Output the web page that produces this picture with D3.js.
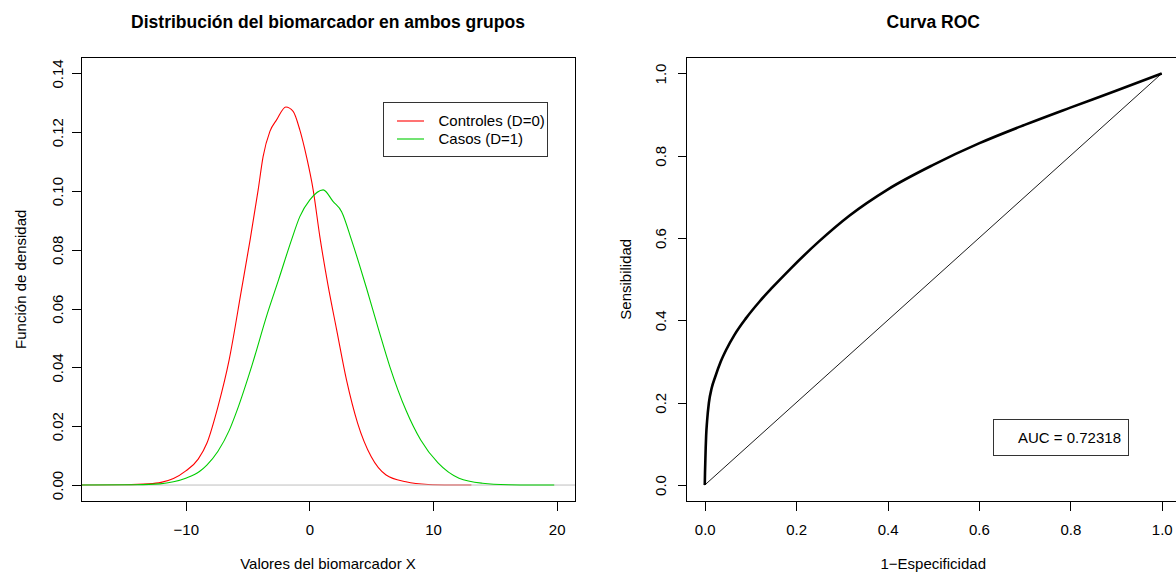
<!DOCTYPE html>
<html>
<head>
<meta charset="utf-8">
<script src="https://cdn.jsdelivr.net/npm/d3@7"></script>
<style>
  body { margin: 0; background: #fff; }
  text { font-family: "Liberation Sans", Arial, Helvetica, sans-serif; fill: #000; }
</style>
</head>
<body>
<div id="chartArea"></div>
<script>
// densidad estimada, controles (D=0)
const ctrlX = [-18.5, -15, -13, -12, -11, -10, -9, -8.3, -7.4, -6.5, -5.5, -4.8, -4.15, -3.75, -3.2, -2.66, -1.91, -1.32, -0.78, -0.24, 0.3, 0.84, 1.5, 2.2, 3.0, 3.9, 5.0, 6.2, 7.8, 9.6, 11.5, 13.1];
const ctrlY = [0, 0.0001, 0.0004, 0.0009, 0.0022, 0.0048, 0.0088, 0.0142, 0.0267, 0.0425, 0.0664, 0.0834, 0.1004, 0.1117, 0.1203, 0.1242, 0.1286, 0.1271, 0.1208, 0.1117, 0.1004, 0.0845, 0.068, 0.0528, 0.0357, 0.021, 0.0096, 0.0034, 0.0011, 0.0002, 0.00003, 0];
// densidad estimada, casos (D=1)
const casosX = [-18.5, -14, -12.1, -11, -9.95, -8.9, -8.3, -7.4, -6.5, -5.85, -4.6, -3.4, -2.5, -1.45, -0.78, 0.03, 1.11, 1.92, 2.6, 3.4, 4.0, 4.6, 5.6, 6.5, 7.8, 9.0, 10.4, 12.1, 14.0, 16.1, 18, 19.8];
const casosY = [0, 0.0001, 0.0004, 0.0011, 0.0024, 0.0046, 0.0068, 0.0115, 0.0185, 0.0255, 0.0414, 0.0584, 0.0698, 0.0834, 0.0913, 0.097, 0.1004, 0.0964, 0.093, 0.0834, 0.0755, 0.0672, 0.0528, 0.0403, 0.0255, 0.0153, 0.0075, 0.0023, 0.0006, 0.0001, 0, 0];

const densXLim = [-17, 20];
const densYLim = [0, 0.14];
const densXTicks = [-10, 0, 10, 20];
const densYTicks = [0, 0.02, 0.04, 0.06, 0.08, 0.10, 0.12, 0.14];
const legendLabels = ["Controles (D=0)", "Casos (D=1)"];
const legendColors = ["#FF0000", "#00CD00"];

// curva ROC
const fpr = [0, 0.0005, 0.001, 0.002, 0.003, 0.005, 0.009, 0.015, 0.0235, 0.035, 0.0475, 0.065, 0.09, 0.12, 0.148, 0.188, 0.25, 0.317, 0.4, 0.5, 0.6, 0.7, 0.8, 0.9, 1];
const tpr = [0, 0.03, 0.05, 0.09, 0.12, 0.155, 0.2, 0.235, 0.265, 0.3, 0.33, 0.365, 0.405, 0.446, 0.48, 0.526, 0.592, 0.655, 0.718, 0.778, 0.83, 0.875, 0.917, 0.958, 1];
const diagX = [0, 1];
const diagY = [0, 1];
const rocLim = [0, 1];
const rocTicks = [0, 0.2, 0.4, 0.6, 0.8, 1.0];
const aucText = "AUC = 0.72318";

const W = 1176, H = 572;
const FONT = 15;

// R extiende los ejes un 4% por cada lado
function pad(lim) {
    const d = lim[1] - lim[0];
    return [lim[0] - 0.04 * d, lim[1] + 0.04 * d];
}

const svg = d3.select("#chartArea")
    .append("svg")
    .attr("width", W)
    .attr("height", H);

// region de dibujo recortada a la caja (como en R)
const defs = svg.append("defs");

function clipFor(id, x, y) {
    defs.append("clipPath").attr("id", id)
        .append("rect")
        .attr("x", x.range()[0]).attr("y", y.range()[1])
        .attr("width", x.range()[1] - x.range()[0])
        .attr("height", y.range()[0] - y.range()[1]);
    return "url(#" + id + ")";
}

function drawAxes(x, y, xTicks, yTicks, xFmt, yFmt, yLabelOff) {
    const box = { l: x.range()[0], r: x.range()[1], t: y.range()[1], b: y.range()[0] };

    const gx = svg.append("g")
        .attr("transform", "translate(0," + box.b + ")")
        .call(d3.axisBottom(x).tickValues(xTicks).tickSize(9).tickPadding(13.5).tickFormat(xFmt));
    gx.select(".domain").remove();

    const gy = svg.append("g")
        .attr("transform", "translate(" + box.l + ",0)")
        .call(d3.axisLeft(y).tickValues(yTicks).tickSize(9).tickFormat(yFmt));
    gy.select(".domain").remove();
    gy.selectAll(".tick text")
        .attr("transform", "rotate(-90)")
        .attr("x", 0)
        .attr("y", -yLabelOff)
        .attr("dy", 0)
        .attr("text-anchor", "middle");

    [gx, gy].forEach(g => {
        g.attr("font-size", FONT).attr("font-family", null);
        g.selectAll(".tick line").attr("stroke", "#000").attr("shape-rendering", "crispEdges");
    });

    svg.append("rect")
        .attr("x", box.l).attr("y", box.t)
        .attr("width", box.r - box.l).attr("height", box.b - box.t)
        .attr("fill", "none").attr("stroke", "#000")
        .attr("shape-rendering", "crispEdges");
    return box;
}

function drawTexts(box, title, xlab, ylab, ylabX) {
    const cx = (box.l + box.r) / 2, cy = (box.t + box.b) / 2;
    svg.append("text")
        .attr("x", cx).attr("y", 28)
        .attr("text-anchor", "middle")
        .attr("font-weight", "bold")
        .attr("font-size", 17.5)
        .text(title);
    svg.append("text")
        .attr("x", cx).attr("y", 569)
        .attr("text-anchor", "middle")
        .attr("font-size", FONT)
        .text(xlab);
    svg.append("text")
        .attr("transform", "translate(" + ylabX + "," + cy + ") rotate(-90)")
        .attr("text-anchor", "middle")
        .attr("font-size", FONT)
        .text(ylab);
}

// ---------- panel izquierdo: densidades ----------
const xD = d3.scaleLinear().domain(pad(densXLim)).range([81, 575]);
const yD = d3.scaleLinear().domain(pad(densYLim)).range([501.5, 57]);
const clipD = clipFor("clipD", xD, yD);

const densLine = d3.line()
    .x(d => xD(d[0]))
    .y(d => yD(d[1]))
    .curve(d3.curveMonotoneX);

const gD = svg.append("g").attr("clip-path", clipD);

gD.append("path")
    .datum(d3.zip(ctrlX, ctrlY))
    .attr("d", densLine)
    .attr("fill", "none")
    .attr("stroke", legendColors[0])
    .attr("stroke-width", 1.1);

gD.append("line")
    .attr("x1", xD.range()[0]).attr("x2", xD.range()[1])
    .attr("y1", yD(0)).attr("y2", yD(0))
    .attr("stroke", "#BEBEBE")
    .attr("stroke-width", 1);

gD.append("path")
    .datum(d3.zip(casosX, casosY))
    .attr("d", densLine)
    .attr("fill", "none")
    .attr("stroke", legendColors[1])
    .attr("stroke-width", 1.1);

const fmtX = d => d3.format("d")(d);
const boxD = drawAxes(xD, yD, densXTicks, densYTicks, fmtX, d3.format(".2f"), 18.5);
drawTexts(boxD, "Distribución del biomarcador en ambos grupos",
    "Valores del biomarcador X", "Función de densidad", 26);

// leyenda
const leg = svg.append("g");
leg.append("rect")
    .attr("x", 383.5).attr("y", 102.5)
    .attr("width", 164).attr("height", 54)
    .attr("fill", "#fff").attr("stroke", "#333")
    .attr("shape-rendering", "crispEdges");
legendLabels.forEach((lab, i) => {
    const ly = 121 + i * 18;
    leg.append("line")
        .attr("x1", 397).attr("x2", 424)
        .attr("y1", ly).attr("y2", ly)
        .attr("stroke", legendColors[i]).attr("stroke-width", 1.1);
    leg.append("text")
        .attr("x", 438.5).attr("y", ly + 5.3)
        .attr("font-size", FONT)
        .text(lab);
});

// ---------- panel derecho: curva ROC ----------
const xR = d3.scaleLinear().domain(pad(rocLim)).range([686.5, 1180]);
const yR = d3.scaleLinear().domain(pad(rocLim)).range([501.5, 57]);

const rocLine = d3.line()
    .x(d => xR(d[0]))
    .y(d => yR(d[1]));

svg.append("path")
    .datum(d3.zip(fpr, tpr))
    .attr("d", rocLine.curve(d3.curveMonotoneX))
    .attr("fill", "none")
    .attr("stroke", "#000")
    .attr("stroke-width", 2.6)
    .attr("stroke-linejoin", "round");

svg.append("path")
    .datum(d3.zip(diagX, diagY))
    .attr("d", rocLine.curve(d3.curveLinear))
    .attr("fill", "none")
    .attr("stroke", "#000")
    .attr("stroke-width", 0.9);

const fmtR = d3.format(".1f");
const boxR = drawAxes(xR, yR, rocTicks, rocTicks, fmtR, fmtR, 20.5);
drawTexts(boxR, "Curva ROC", "1−Especificidad", "Sensibilidad", 631);

// caja del AUC
svg.append("rect")
    .attr("x", 993.5).attr("y", 419.5)
    .attr("width", 135).attr("height", 35.5)
    .attr("fill", "#fff").attr("stroke", "#333")
    .attr("shape-rendering", "crispEdges");
svg.append("text")
    .attr("x", 1121).attr("y", 443)
    .attr("text-anchor", "end")
    .attr("font-size", FONT)
    .text(aucText);
</script>
</body>
</html>
